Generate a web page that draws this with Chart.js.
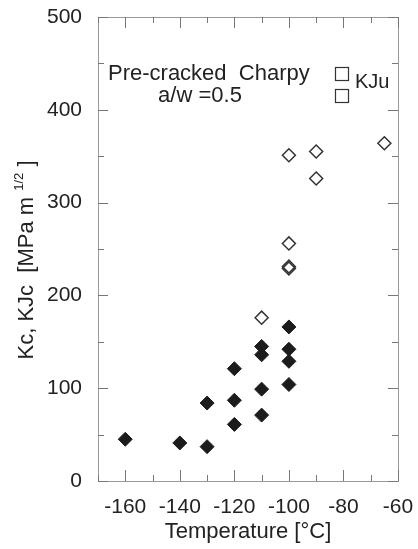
<!DOCTYPE html>
<html lang="en">
<head>
  <meta charset="UTF-8" />
  <title>Kc vs Temperature</title>
  <script src="https://cdn.jsdelivr.net/npm/chart.js"></script>
  <style>
    body { margin: 0; background: #fff; }
    #wrap { width: 418px; height: 549px; }
  </style>
</head>
<body>
  <div id="wrap"><canvas id="kc-chart"></canvas></div>

  <script>
    // Kc / KJc (filled) and KJu (open) vs temperature
    const kcTemp = [-160, -140, -130, -130, -120, -120, -120, -110, -110, -110, -110, -100, -100, -100, -100];
    const kcValue = [45, 41, 37, 84, 87, 61, 121, 99, 71, 145, 136, 104, 166, 142, 129];
    const kjuTemp = [-110, -100, -100, -100, -100, -90, -90, -65];
    const kjuValue = [176, 256, 231, 229, 351, 355, 326, 364];

    const xTickLabels = [-160, -140, -120, -100, -80, -60];
    const yTickLabels = [0, 100, 200, 300, 400, 500];
    const xTickMarks = [-170, -160, -150, -140, -130, -120, -110, -100, -90, -80, -70, -60];
    const yTickMarks = [0, 50, 100, 150, 200, 250, 300, 350, 400, 450, 500];

    const FONT = 'Liberation Sans, Arial, sans-serif';
    const ctx = document.getElementById('kc-chart').getContext('2d');

    // frame, inward ticks, axis title with superscript, annotation
    const decor = {
      id: 'decor',
      afterDraw(chart) {
        const c = chart.ctx;
        const a = chart.chartArea;
        const xs = chart.scales.x, ys = chart.scales.y;
        c.save();
        c.strokeStyle = '#999';
        c.lineWidth = 1;
        c.strokeRect(a.left + 0.5, a.top + 0.5, a.right - a.left, a.bottom - a.top);

        c.strokeStyle = '#777';
        c.beginPath();
        xTickMarks.forEach(v => {
          const px = Math.round(xs.getPixelForValue(v)) + 0.5;
          const len = xTickLabels.includes(v) ? 11 : 6;
          c.moveTo(px, a.bottom); c.lineTo(px, a.bottom - len);
          c.moveTo(px, a.top); c.lineTo(px, a.top + len);
        });
        yTickMarks.forEach(v => {
          const py = Math.round(ys.getPixelForValue(v)) + 0.5;
          const len = yTickLabels.includes(v) ? 10 : 6;
          c.moveTo(a.left, py); c.lineTo(a.left + len, py);
          c.moveTo(a.right, py); c.lineTo(a.right - len, py);
        });
        c.stroke();

        // y title
        c.fillStyle = '#222';
        c.translate(27, (a.top + a.bottom) / 2 + 11);
        c.rotate(-Math.PI / 2);
        c.textBaseline = 'middle';
        const big = '22px ' + FONT, small = '13px ' + FONT;
        const p1 = 'Kc, KJc  [MPa m ', p2 = '1/2', p3 = ' ]';
        c.font = big;
        const w1 = c.measureText(p1).width, w3 = c.measureText(p3).width;
        c.font = small;
        const w2 = c.measureText(p2).width;
        let x0 = -(w1 + w2 + w3) / 2;
        c.font = big; c.fillText(p1, x0, 0);
        c.font = small; c.fillText(p2, x0 + w1, -8);
        c.font = big; c.fillText(p3, x0 + w1 + w2, 0);
        c.restore();

        // annotation + legend boxes
        c.save();
        c.fillStyle = '#222';
        c.font = '22px ' + FONT;
        c.textBaseline = 'alphabetic';
        c.textAlign = 'left';
        c.fillText('Pre-cracked  Charpy', 108, 80);
        c.textAlign = 'center';
        c.fillText('a/w =0.5', 200, 102);
        c.textAlign = 'left';
        c.font = '20px ' + FONT;
        c.fillText('KJu', 355, 88);
        c.strokeStyle = '#333';
        c.lineWidth = 1.2;
        c.strokeRect(335.5, 67.5, 13, 13);
        c.strokeRect(335.5, 89.5, 13, 13);
        c.restore();
      }
    };

    new Chart(ctx, {
      type: 'scatter',
      data: {
        datasets: [
          {
            label: 'Kc, KJc',
            data: kcTemp.map((t, i) => ({ x: t, y: kcValue[i] })),
            pointStyle: 'rectRot',
            pointRadius: 7,
            backgroundColor: '#1c1c1c',
            borderColor: '#1c1c1c',
            borderWidth: 1
          },
          {
            label: 'KJu',
            data: kjuTemp.map((t, i) => ({ x: t, y: kjuValue[i] })),
            pointStyle: 'rectRot',
            pointRadius: 6.5,
            backgroundColor: 'rgba(0,0,0,0)',
            borderColor: '#333',
            borderWidth: 1.5
          }
        ]
      },
      options: {
        responsive: true,
        maintainAspectRatio: false,
        animation: false,
        layout: { padding: { top: 17, right: 20, left: 0, bottom: 0 } },
        plugins: { legend: { display: false }, tooltip: { enabled: false } },
        scales: {
          x: {
            type: 'linear',
            min: -170,
            max: -60,
            afterBuildTicks: s => { s.ticks = xTickLabels.map(v => ({ value: v })); },
            afterFit: s => { s.height = 68; s.paddingLeft = 0; s.paddingRight = 0; },
            grid: { display: false, drawTicks: false },
            border: { display: false },
            ticks: { color: '#222', font: { family: FONT, size: 21 }, padding: 14, maxRotation: 0, autoSkip: false },
            title: { display: true, text: 'Temperature [°C]', color: '#222', font: { family: FONT, size: 22 }, padding: { top: 0, bottom: 4 } }
          },
          y: {
            type: 'linear',
            min: 0,
            max: 500,
            afterBuildTicks: s => { s.ticks = yTickLabels.map(v => ({ value: v })); },
            afterFit: s => { s.width = 98; s.paddingTop = 0; s.paddingBottom = 0; },
            grid: { display: false, drawTicks: false },
            border: { display: false },
            ticks: { color: '#222', font: { family: FONT, size: 21 }, padding: 16, autoSkip: false }
          }
        }
      },
      plugins: [decor]
    });
  </script>
</body>
</html>
